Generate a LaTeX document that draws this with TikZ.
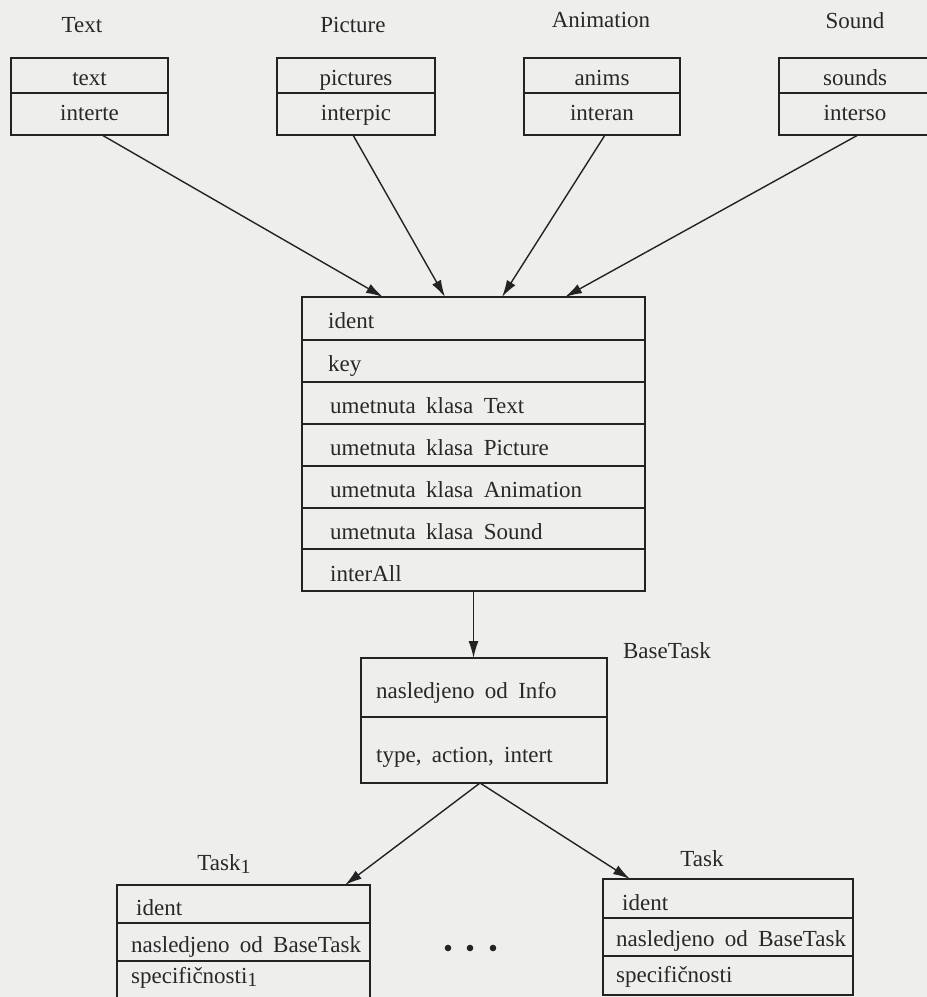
\documentclass[tikz,border=0pt]{standalone}
\usepackage{fontspec}
\setmainfont{Liberation Serif}
\usetikzlibrary{arrows.meta,calc}
\definecolor{paper}{RGB}{238,238,236}
\definecolor{ink}{RGB}{35,35,35}
\definecolor{type}{RGB}{40,40,40}
\newcommand\diagfont{\fontsize{23}{27}\selectfont\spaceskip=0.45em\relax}
\newcommand\lowone{\raisebox{-0.32ex}{\fontsize{20}{24}\selectfont 1}}
\tikzset{
  box/.style={draw=ink, line width=1.4pt, inner sep=0pt, outer sep=0pt, anchor=north west},
  rule/.style={draw=ink, line width=1.3pt},
  lbl/.style={text=type, font=\diagfont, inner sep=0pt, anchor=base},
  field/.style={text=type, font=\diagfont, inner sep=0pt, anchor=base west},
  link/.style={draw=ink, line width=1.4pt, -{Latex[length=17pt,width=10pt]}},
}
\begin{document}
\begin{tikzpicture}[x=1pt,y=-1pt]
  \fill[paper] (0,0) rectangle (927,997);
  \useasboundingbox (0,0) rectangle (927,997);
  \clip (0,0) rectangle (927,997);

  % class names above the media boxes
  \node[lbl] (nText) at (82,32) {Text};
  \node[lbl] (nPicture) at (353,32) {Picture};
  \node[lbl] (nAnimation) at (601,27) {Animation};
  \node[lbl] (nSound) at (855,28) {Sound};

  % media classes
  \node[box, minimum width=157, minimum height=77] (tbox) at (11,58) {};
  \draw[rule] (11,93) -- (168,93);
  \node[lbl] (tbA) at (89.5,85) {text};
  \node[lbl] (tbB) at (89.5,120) {interte};

  \node[box, minimum width=158, minimum height=77] (pbox) at (277,58) {};
  \draw[rule] (277,93) -- (435,93);
  \node[lbl] (pbA) at (356,85) {pictures};
  \node[lbl] (pbB) at (356,120) {interpic};

  \node[box, minimum width=156, minimum height=77] (abox) at (524,58) {};
  \draw[rule] (524,93) -- (680,93);
  \node[lbl] (abA) at (602,85) {anims};
  \node[lbl] (abB) at (602,120) {interan};

  \node[box, minimum width=152, minimum height=77] (sbox) at (779,58) {};
  \draw[rule] (779,93) -- (931,93);
  \node[lbl] (sbA) at (855,85) {sounds};
  \node[lbl] (sbB) at (855,120) {interso};

  % Info class
  \node[box, minimum width=343, minimum height=294] (ibox) at (302,297) {};
  \foreach \yy in {340,382,424,466,508,549} \draw[rule] (302,\yy) -- (645,\yy);
  \node[field] (iA) at (328,328) {ident};
  \node[field] (iB) at (328,371) {key};
  \node[field] (iC) at (330,413) {umetnuta klasa Text};
  \node[field] (iD) at (330,455) {umetnuta klasa Picture};
  \node[field] (iE) at (330,497) {umetnuta klasa Animation};
  \node[field] (iF) at (330,539) {umetnuta klasa Sound};
  \node[field] (iG) at (330,581) {interAll};

  % BaseTask class
  \node[lbl] (nBase) at (667,658) {BaseTask};
  \node[box, minimum width=246, minimum height=125] (btbox) at (361,658) {};
  \draw[rule] (361,717) -- (607,717);
  \node[field] (bA) at (376,698) {nasledjeno od Info};
  \node[field] (bB) at (376,762) {type, action, intert};

  % Task_1 class
  \node[lbl] (nTask1) at (224,870) {Task\lowone};
  \node[box, minimum width=253, minimum height=116] (t1box) at (117,885) {};
  \draw[rule] (117,923) -- (370,923);
  \draw[rule] (117,961) -- (370,961);
  \node[field] (aA) at (136,915) {ident};
  \node[field] (aB) at (131,952) {nasledjeno od BaseTask};
  \node[field] (aC) at (131,983) {specifičnosti\lowone};

  % further task classes
  \fill[ink] (448,948) circle (3.3) (470,948) circle (3.3) (493,948) circle (3.3);

  % Task class
  \node[lbl] (nTask) at (702,866) {Task};
  \node[box, minimum width=250, minimum height=116] (t2box) at (603,879) {};
  \draw[rule] (603,918) -- (853,918);
  \draw[rule] (603,956) -- (853,956);
  \node[field] (cA) at (622,910) {ident};
  \node[field] (cB) at (616,946) {nasledjeno od BaseTask};
  \node[field] (cC) at (616,982) {specifičnosti};

  % connectors
  \draw[link] ([xshift=12.5]tbox.south) -- ([xshift=81]ibox.north west);
  \draw[link] ([xshift=-3]pbox.south) -- ([xshift=143]ibox.north west);
  \draw[link] ([xshift=3]abox.south) -- ([xshift=200]ibox.north west);
  \draw[link] ([xshift=3]sbox.south) -- ([xshift=263]ibox.north west);
  \draw[link] (ibox.south) -- (ibox.south |- btbox.north);
  \draw[link] ([xshift=-4]btbox.south) -- ([xshift=-25]t1box.north east);
  \draw[link] ([xshift=-4]btbox.south) -- ([xshift=27]t2box.north west);
\end{tikzpicture}
\end{document}
